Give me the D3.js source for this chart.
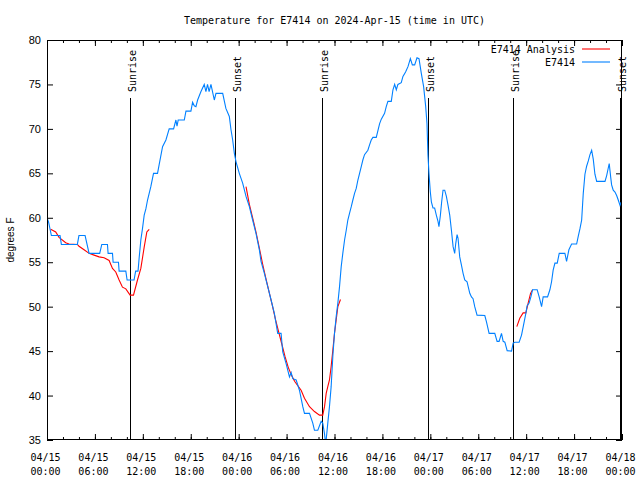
<!DOCTYPE html>
<html><head><meta charset="utf-8">
<script src="https://cdn.jsdelivr.net/npm/d3@7"></script>
<style>
html,body{margin:0;padding:0;background:#fff;}
svg{display:block;}
</style></head>
<body>
<script>
// ---- data (hours after 2024-04-15 00:00 UTC, degrees F) ----
const chartTitle = "Temperature for E7414 on 2024-Apr-15 (time in UTC)";
const yLabel = "degrees F";
const seriesNames = ["E7414 Analysis", "E7414"];
const yTicks = [35, 40, 45, 50, 55, 60, 65, 70, 75, 80];

const blueHours = [0,0.2,0.55,1.63,1.8,3.8,4.0,4.77,5.27,6.6,6.86,7.57,7.65,8.2,8.28,8.95,9.03,9.87,10.03,10.9,11.1,11.4,11.54,11.75,11.96,12.17,12.38,12.59,13.0,13.34,13.84,14.05,14.47,14.89,15.3,15.85,16.14,16.28,16.43,17.19,17.4,18.02,18.23,18.44,18.65,18.86,19.28,19.69,19.9,20.1,20.3,20.53,20.95,21.16,22.0,22.4,22.83,23.04,23.25,23.46,23.67,24.08,24.5,24.92,25.34,25.75,26.17,26.59,26.8,27.22,27.64,28.06,28.47,28.89,29.31,29.52,29.94,30.36,30.57,30.78,31.2,31.61,32.03,32.24,32.87,33.28,33.49,33.91,34.33,34.53,34.74,34.9,35.16,35.37,35.58,35.79,36.0,36.21,36.42,36.63,36.84,37.04,37.26,37.47,37.67,37.88,38.1,38.3,38.51,38.72,38.93,39.14,39.35,39.55,39.76,40.18,40.39,40.6,40.81,41.23,41.65,41.86,42.27,42.48,42.69,43.11,43.32,43.53,43.74,43.94,44.36,44.57,44.9,45.2,45.5,45.75,46.04,46.33,46.58,46.87,47.16,47.42,47.58,47.7,47.83,48.0,48.13,48.33,48.54,48.75,48.96,49.08,49.26,49.42,49.59,49.8,50.01,50.22,50.43,50.64,50.85,51.05,51.18,51.35,51.47,51.68,51.89,52.1,52.31,52.6,52.94,53.15,53.35,53.56,53.85,54.82,55.03,55.36,56.07,56.36,56.61,56.91,57.12,57.33,57.62,58.17,58.37,58.58,59.12,59.42,59.62,59.96,60.12,60.37,60.59,60.8,61.38,61.63,61.93,62.13,62.68,62.97,63.18,63.38,63.6,63.89,64.14,64.85,65.06,65.35,65.69,66.32,66.52,66.73,66.95,67.15,67.36,67.57,67.78,67.99,68.2,68.4,68.61,68.83,69.87,70.08,70.28,70.4,70.58,70.7,70.9,71.12,71.33,71.53,71.75,71.87,72];
const blueTemps = [60,59.5,58,58,57,57,58,58,56,56,57,57,56,56,55,55,54,54,53,53,54,54,55.5,57.5,58.8,60.3,61,62,63.5,65,65,66,68,68.75,70,70,71,70.3,71,71,72,72,73,72.6,72.5,73.25,74.2,75,74.2,75,74.2,75,73.25,74,74,72.3,71.4,69.9,68.75,67.25,66.3,65,63.9,62.4,61.25,59.75,58.25,56.4,55.1,53.75,52.25,50.75,49.25,47,47,44.9,43.6,42.1,42.6,41.9,41.75,40.6,38.75,38,38,36.9,36.1,36.1,37.1,36.9,35.75,34.5,36.9,38.75,41,44.4,47,48.9,50.4,52.25,54.5,56,57.5,58.6,59.75,60.5,61.25,62,62.75,63.3,64.25,65,65.75,66.5,67.1,67.6,68.2,68.75,69.05,69.05,70.6,71.1,71.75,72.5,73.1,73.1,74.4,75,74.4,75,75.2,75.9,76.4,77,77.9,77.2,77.2,78,77.9,76.25,74.75,72.5,70.6,67.1,65,62.9,61.8,61.1,61.1,60.3,59.6,59,60.3,61.8,63.1,63.1,62.4,61.4,60.3,58.6,56.75,56,57.1,58.1,57.7,55.6,54.7,53.75,53,52.8,51.5,51.1,50.9,50,49.05,49,48.3,47,47,46.1,46.1,47,46.1,46,45.05,45,45.9,46,46,46.8,47.7,49.25,50.1,50.4,51.1,51.9,51.9,51.1,50,51.1,51.1,51.9,52.8,54.1,54.9,54.9,56,56,55.1,56.4,57.05,57.05,57.9,58.75,59.75,62.75,64.9,65.8,66.4,67.1,67.6,66.6,64.9,64.1,64.1,64.75,65.6,66.1,64.6,63.7,63.1,62.9,62.5,62,61.4,61.7,61.7];

// analysis series; null marks a gap between runs
const redHours = [0.46,1.09,1.51,2.34,2.76,3.8,4.01,4.64,5.27,5.9,6.52,7.15,7.78,8.2,8.61,9.03,9.45,9.87,10.41,10.83,11.33,11.75,12.17,12.5,12.8,
  null,
  24.92,25.34,25.75,26.17,26.59,27.0,27.4,27.8,28.2,28.6,29.0,29.4,29.8,30.2,30.6,31.0,31.82,32.24,32.87,33.49,34.12,34.53,34.75,34.96,35.16,35.37,35.58,35.79,36.0,36.21,36.42,36.75,
  null,
  58.83,59.2,59.62,59.96,60.25,60.55,60.8];
const redTemps = [58.7,58.4,57.8,57.2,57.05,57,56.8,56.4,56,55.8,55.6,55.5,55.2,54.3,53.9,53,52.2,52,51.3,51.3,53,54.3,56.7,58.4,58.7,
  null,
  63.5,61.5,60,58.4,56.6,54.8,53.2,51.7,50.2,48.6,47.2,45.8,44.4,43.2,42.3,41.6,40.6,39.7,38.75,38.2,37.8,37.8,38.75,40.25,41,41.75,43.25,45.1,47,48.5,50,50.8,
  null,
  47.75,48.7,49.3,49.3,50.4,51.5,51.9];

const sunLabels = ["Sunrise","Sunset","Sunrise","Sunset","Sunrise","Sunset"];
const sunHours = [10.42,23.6,34.38,47.68,58.35,71.8];

// ---- layout ----
const W = 640, H = 480;
const M = {left: 47, right: 622, top: 40, bottom: 440};
const t0 = Date.UTC(2024, 3, 15);
const toDate = h => new Date(t0 + h * 3600e3);

const x = d3.scaleUtc().domain([toDate(0), toDate(72)]).range([M.left, M.right]);
const y = d3.scaleLinear().domain([35, 80]).range([M.bottom, M.top]);

const svg = d3.select("body").append("svg").attr("width", W).attr("height", H);
const mono = "'DejaVu Sans Mono', monospace";
const sans = "'Liberation Sans', Arial, sans-serif";

svg.append("defs").append("clipPath").attr("id","clip")
  .append("rect").attr("x", M.left).attr("y", M.top)
  .attr("width", M.right - M.left).attr("height", M.bottom - M.top);

// title
svg.append("text").attr("x", (M.left + M.right) / 2).attr("y", 24)
  .attr("text-anchor","middle").style("font-family", mono).style("font-size","10px")
  .text(chartTitle);

// axes ticks (inward), with minor ticks
const majorX = d3.utcHour.every(6).range(toDate(0), toDate(72.01));
const minorX = d3.utcHour.every(2).range(toDate(0), toDate(72.01));
const gx = svg.append("g");
const bottomMinor = d3.axisBottom(x).tickValues(minorX).tickSize(-3).tickFormat("");
const bottomMajor = d3.axisBottom(x).tickValues(majorX).tickSize(-6).tickFormat("");
const topMinor = d3.axisTop(x).tickValues(minorX).tickSize(-3).tickFormat("");
const topMajor = d3.axisTop(x).tickValues(majorX).tickSize(-6).tickFormat("");
[[bottomMinor, M.bottom],[bottomMajor, M.bottom],[topMinor, M.top],[topMajor, M.top]].forEach(([ax, ty]) => {
  const g = gx.append("g").attr("transform", `translate(0,${ty})`).call(ax);
  g.select(".domain").remove();
  g.selectAll("line").attr("stroke","#000");
});
const leftAx = d3.axisLeft(y).tickValues(yTicks).tickSize(-6).tickFormat("");
const rightAx = d3.axisRight(y).tickValues(yTicks).tickSize(-6).tickFormat("");
[[leftAx, M.left],[rightAx, M.right]].forEach(([ax, tx]) => {
  const g = gx.append("g").attr("transform", `translate(${tx},0)`).call(ax);
  g.select(".domain").remove();
  g.selectAll("line").attr("stroke","#000");
});

// x tick labels (two lines)
const fmtD = d3.utcFormat("%m/%d"), fmtT = d3.utcFormat("%H:%M");
const xl = svg.append("g").style("font-family", mono).style("font-size","10px").attr("text-anchor","middle");
majorX.forEach(d => {
  const t = xl.append("text").attr("x", x(d) - 1.5).attr("y", 461);
  t.append("tspan").attr("x", x(d) - 1.5).text(fmtD(d));
  t.append("tspan").attr("x", x(d) - 1.5).attr("dy", 14).text(fmtT(d));
});

// y tick labels
svg.append("g").selectAll("text").data(yTicks).join("text")
  .attr("x", 41).attr("y", d => y(d) + 4)
  .attr("text-anchor","end").style("font-family", sans).style("font-size","11px")
  .text(d => d);

// y axis label
svg.append("text").attr("transform", `translate(14,${(M.top + M.bottom)/2}) rotate(-90)`)
  .attr("text-anchor","middle").style("font-family", sans).style("font-size","10px")
  .text(yLabel);

// sun event lines
const sun = svg.append("g");
sunHours.forEach((h, i) => {
  const sx = Math.round(x(toDate(h))) + 0.5;
  sun.append("line").attr("x1", sx).attr("x2", sx).attr("y1", 98).attr("y2", M.bottom)
    .attr("stroke","#000").attr("stroke-width",1);
  sun.append("text").attr("transform", `translate(${sx + 5.5},92) rotate(-90)`)
    .attr("text-anchor","start").style("font-family", mono).style("font-size","10px")
    .text(sunLabels[i]);
});

// lines
const plot = svg.append("g").attr("clip-path","url(#clip)");
const redData = redHours.map((h, i) => ({h, v: redTemps[i]}));
const blueData = blueHours.map((h, i) => ({h, v: blueTemps[i]}));
const line = d3.line().defined(d => d.h !== null && d.v !== null)
  .x(d => x(toDate(d.h))).y(d => y(d.v));
plot.append("path").datum(redData).attr("d", line)
  .attr("fill","none").attr("stroke","#ff0000").attr("stroke-width",1.1);
plot.append("path").datum(blueData).attr("d", line)
  .attr("fill","none").attr("stroke","#0080ff").attr("stroke-width",1.1);

// frame
svg.append("rect").attr("x", M.left + 0.5).attr("y", M.top + 0.5)
  .attr("width", M.right - M.left - 1).attr("height", M.bottom - M.top - 1)
  .attr("fill","none").attr("stroke","#000").attr("stroke-width",1);

// legend
const legColors = ["#ff0000", "#0080ff"];
const leg = svg.append("g").style("font-family", mono).style("font-size","10px");
seriesNames.forEach((n, i) => {
  const ly = 49 + i * 13;
  leg.append("text").attr("x", 575).attr("y", ly + 4).attr("text-anchor","end").text(n);
  leg.append("line").attr("x1", 582).attr("x2", 610).attr("y1", ly).attr("y2", ly)
    .attr("stroke", legColors[i]).attr("stroke-width", 1.1);
});
</script>
</body></html>
